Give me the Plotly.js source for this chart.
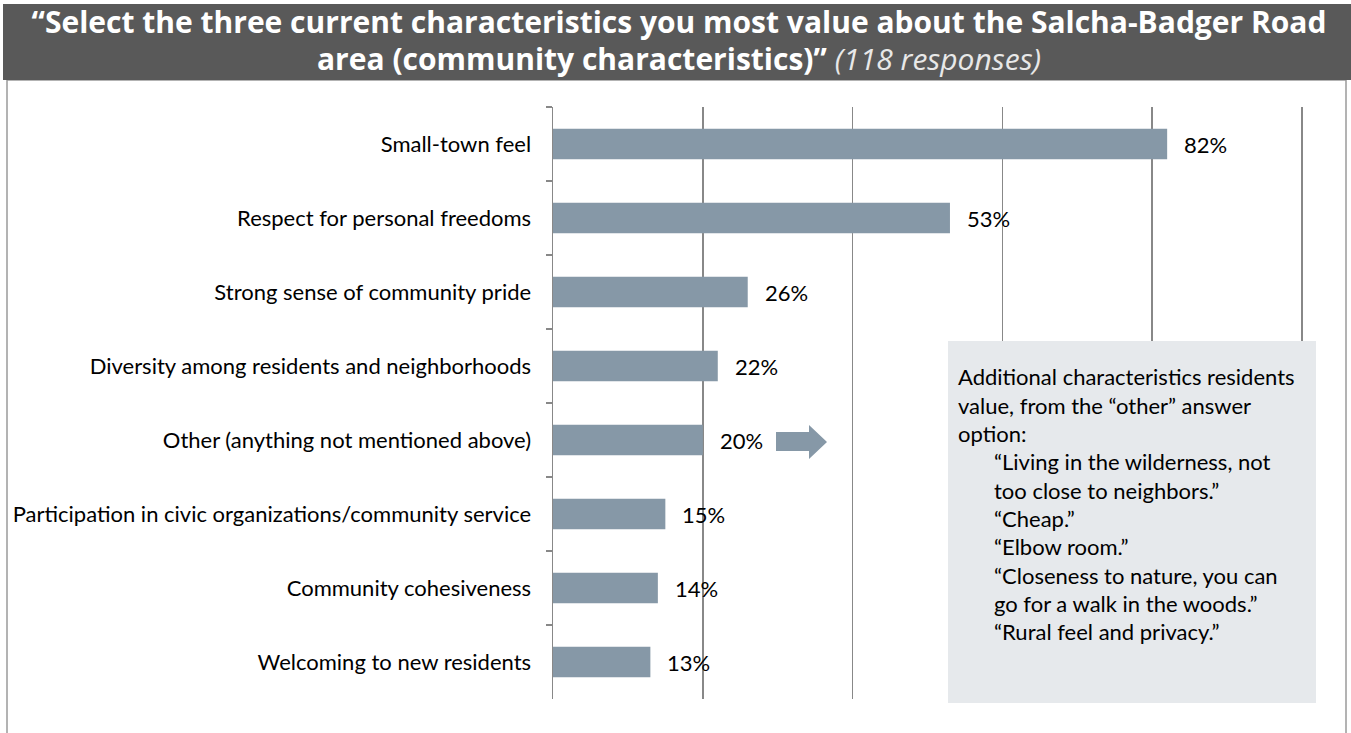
<!DOCTYPE html>
<html>
<head>
<meta charset="utf-8">
<script src="https://cdn.plot.ly/plotly-3.0.1.min.js"></script>
<style>html,body{margin:0;padding:0;background:#fff;}#chart{width:1351px;height:733px;}</style>
</head>
<body>
<div id="chart"></div>
<script>
const categories = [
  "Small-town feel",
  "Respect for personal freedoms",
  "Strong sense of community pride",
  "Diversity among residents and neighborhoods",
  "Other (anything not mentioned above)",
  "Participation in civic organizations/community service",
  "Community cohesiveness",
  "Welcoming to new residents"
];
const values = [82, 53, 26, 22, 20, 15, 14, 13];
const valueLabels = ["82%", "53%", "26%", "22%", "20%", "15%", "14%", "13%"];
const xTicks = [0, 20, 40, 60, 80, 100];

const titleLine1 = "“Select the three current characteristics you most value about the Salcha-Badger Road";
const titleLine2 = "area (community characteristics)”";
const titleNote = "(118 responses)";

const noteHeader = [
  "Additional characteristics residents",
  "value, from the “other” answer",
  "option:"
];
const noteQuotes = [
  "“Living in the wilderness, not",
  "too close to neighbors.”",
  "“Cheap.”",
  "“Elbow room.”",
  "“Closeness to nature, you can",
  "go for a walk in the woods.”",
  "“Rural feel and privacy.”"
];

// plot area: x 553..1304 (100% at 1302), y 107..699
const L = 553, R = 1304, T = 107, B = 699;
const XMAX = 100.27;
const px = p => (p - L) / (R - L);
const py = p => (B - p) / (B - T);

const FONT = "Lato, 'Open Sans', sans-serif";
const TFONT = "'Open Sans', Lato, sans-serif";

const annotations = [];
categories.forEach((c, i) => {
  annotations.push({
    x: values[i], y: c, xref: "x", yref: "y",
    text: valueLabels[i], showarrow: false,
    xanchor: "left", yanchor: "middle", xshift: 15,
    font: {family: FONT, size: 22, color: "#000"}
  });
});
const lineH = 28.3, firstLineY = 377;
noteHeader.forEach((t, i) => {
  annotations.push({
    x: px(956), y: py(firstLineY + i * lineH), xref: "paper", yref: "paper",
    text: t, showarrow: false, xanchor: "left", yanchor: "middle",
    font: {family: FONT, size: 22, color: "#000"}
  });
});
noteQuotes.forEach((t, i) => {
  annotations.push({
    x: px(992), y: py(firstLineY + (i + noteHeader.length) * lineH), xref: "paper", yref: "paper",
    text: t, showarrow: false, xanchor: "left", yanchor: "middle",
    font: {family: FONT, size: 22, color: "#000"}
  });
});
// second title line
annotations.push({
  x: px(679), y: py(58), xref: "paper", yref: "paper",
  text: `<b>${titleLine2}</b> <i style="color:#e8e8e8">${titleNote}</i>`,
  showarrow: false, xanchor: "center", yanchor: "middle",
  font: {family: TFONT, size: 30, color: "#ffffff"}
});

const shapes = [
  // outer frame
  {type: "rect", xref: "paper", yref: "paper", layer: "below",
   x0: px(7), x1: px(1346), y0: py(80), y1: py(745),
   line: {color: "#9a9a9a", width: 1.5}, fillcolor: "rgba(0,0,0,0)"},
  // header band
  {type: "rect", xref: "paper", yref: "paper", layer: "above",
   x0: px(3), x1: px(1355), y0: py(4), y1: py(80),
   line: {width: 0}, fillcolor: "#595959"},
  // note box
  {type: "rect", xref: "paper", yref: "paper", layer: "above",
   x0: px(948), x1: px(1316), y0: py(341), y1: py(703),
   line: {width: 0}, fillcolor: "#e6e9ec"},
  // arrow
  {type: "path", xref: "paper", yref: "paper", layer: "above",
   path: `M ${px(776)} ${py(432)} L ${px(809)} ${py(432)} L ${px(809)} ${py(425)} L ${px(827)} ${py(442)} L ${px(809)} ${py(459)} L ${px(809)} ${py(451)} L ${px(776)} ${py(451)} Z`,
   line: {width: 0}, fillcolor: "#8698a7"}
];

const data = [{
  type: "bar", orientation: "h",
  x: values, y: categories,
  marker: {color: "#8698a7", line: {width: 0}},
  hoverinfo: "skip"
}];

const layout = {
  width: 1351, height: 733,
  margin: {l: L, r: 1351 - R, t: T, b: 733 - B, pad: 0},
  paper_bgcolor: "#ffffff", plot_bgcolor: "#ffffff",
  showlegend: false,
  bargap: 0.59,
  title: {
    text: `<b>${titleLine1}</b>`,
    font: {family: TFONT, size: 30, color: "#ffffff"},
    x: 679 / 1351, xref: "container", xanchor: "center",
    y: 1 - 22 / 733, yref: "container", yanchor: "middle"
  },
  xaxis: {
    range: [0, XMAX], tickvals: xTicks, showticklabels: false,
    showgrid: true, gridcolor: "#888888", gridwidth: 1.5,
    zeroline: false, showline: false, ticks: "", fixedrange: true
  },
  yaxis: {
    type: "category", autorange: "reversed",
    showline: true, linecolor: "#888888", linewidth: 1.5,
    ticks: "outside", tickson: "boundaries", ticklen: 6, tickcolor: "#888888", tickwidth: 1.5,
    showgrid: false, zeroline: false, ticklabelstandoff: 16,
    tickfont: {family: FONT, size: 22, color: "#000"}, fixedrange: true
  },
  shapes: shapes,
  annotations: annotations
};

Plotly.newPlot("chart", data, layout, {staticPlot: true, displayModeBar: false});
</script>
</body>
</html>
